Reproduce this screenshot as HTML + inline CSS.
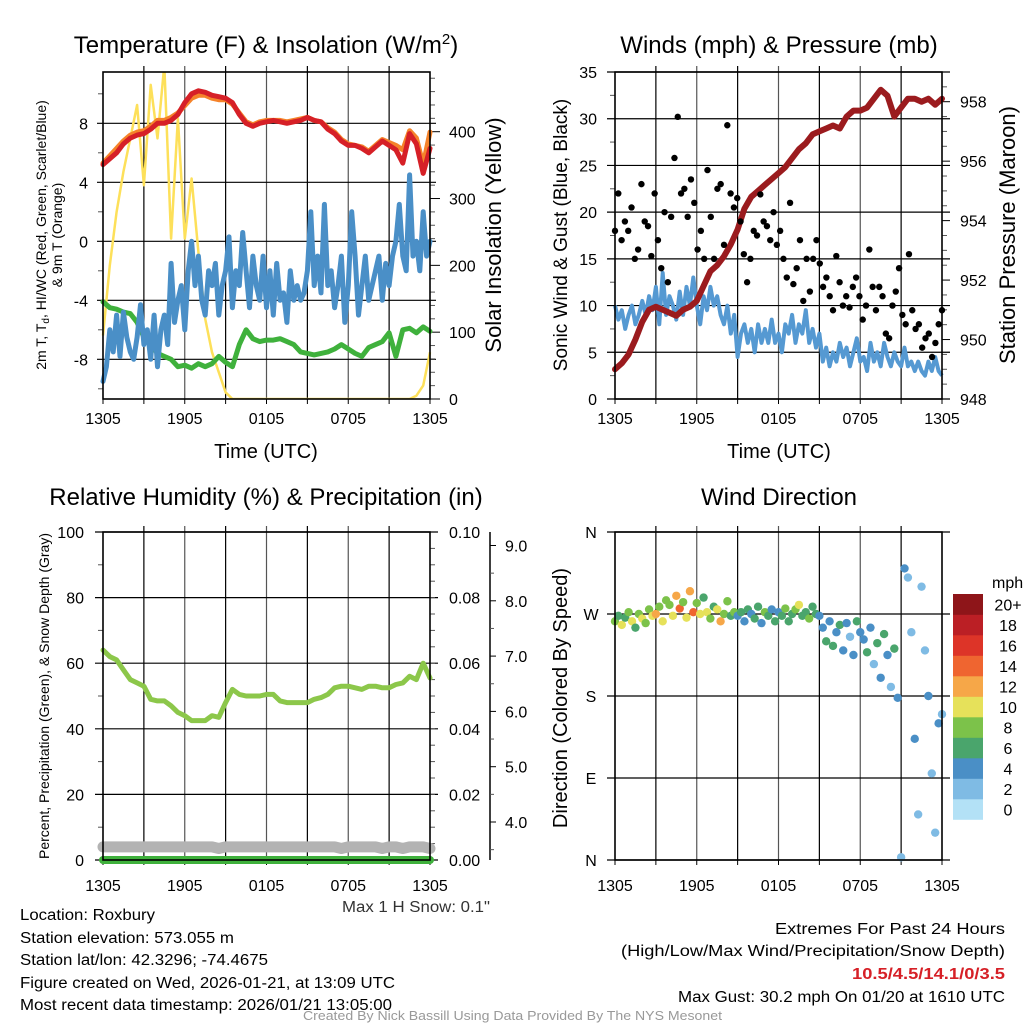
<!DOCTYPE html>
<html><head><meta charset="utf-8"><style>
html,body{margin:0;padding:0;background:#fff;}
svg{display:block;font-family:"Liberation Sans",sans-serif;}
</style></head><body>
<svg id="fig" width="1024" height="1024" viewBox="0 0 1024 1024" xmlns="http://www.w3.org/2000/svg">
<g font-size="24" text-anchor="middle" fill="#000">
<text x="266" y="53">Temperature (F) &amp; Insolation (W/m<tspan dy="-9" font-size="15">2</tspan><tspan dy="9">)</tspan></text>
<text x="779" y="53">Winds (mph) &amp; Pressure (mb)</text>
<text x="266" y="505">Relative Humidity (%) &amp; Precipitation (in)</text>
<text x="779" y="505">Wind Direction</text>
</g>
<g id="layer"></g>
<g font-size="15.5" fill="#000">
<text x="20" y="920" lengthAdjust="spacingAndGlyphs" textLength="135">Location: Roxbury</text>
<text x="20" y="943" lengthAdjust="spacingAndGlyphs" textLength="214">Station elevation: 573.055 m</text>
<text x="20" y="965" lengthAdjust="spacingAndGlyphs" textLength="248">Station lat/lon: 42.3296; -74.4675</text>
<text x="20" y="988" lengthAdjust="spacingAndGlyphs" textLength="375">Figure created on Wed, 2026-01-21, at 13:09 UTC</text>
<text x="20" y="1010" lengthAdjust="spacingAndGlyphs" textLength="372">Most recent data timestamp: 2026/01/21 13:05:00</text>
<text x="775" y="934" lengthAdjust="spacingAndGlyphs" textLength="230">Extremes For Past 24 Hours</text>
<text x="621" y="956" lengthAdjust="spacingAndGlyphs" textLength="384">(High/Low/Max Wind/Precipitation/Snow Depth)</text>
<text x="852" y="979" lengthAdjust="spacingAndGlyphs" textLength="153" fill="#d62027" font-weight="bold">10.5/4.5/14.1/0/3.5</text>
<text x="678" y="1002" lengthAdjust="spacingAndGlyphs" textLength="327">Max Gust: 30.2 mph On 01/20 at 1610 UTC</text>
<text x="342" y="912" lengthAdjust="spacingAndGlyphs" textLength="148" fill="#333">Max 1 H Snow: 0.1"</text>
<text x="303" y="1020" lengthAdjust="spacingAndGlyphs" textLength="419" fill="#999" font-size="12.5">Created By Nick Bassill Using Data Provided By The NYS Mesonet</text>
</g>
</svg>
<script>
// ---------- data ----------
const timeLabels = ["1305","1905","0105","0705","1305"];
const tempF = [5.2,5.6,6.0,6.6,7.0,7.2,7.3,7.6,8.0,8.0,8.2,8.6,9.4,10.0,10.2,10.1,9.9,9.8,9.7,9.4,8.6,8.0,7.8,8.0,8.1,8.2,8.1,8.0,8.1,8.2,8.4,8.2,8.1,7.6,7.3,6.8,6.5,6.5,6.3,6.0,6.4,6.8,6.5,6.2,5.3,7.3,6.6,4.6,6.3];
const temp9mF = [5.3,5.8,6.3,6.8,7.2,7.4,7.5,7.8,8.2,8.2,8.4,8.7,9.2,9.7,9.9,9.9,9.7,9.6,9.6,9.3,8.7,8.1,7.9,8.1,8.2,8.2,8.2,8.1,8.2,8.3,8.4,8.2,8.1,7.7,7.4,6.9,6.6,6.5,6.4,6.1,6.5,6.9,6.7,6.5,6.2,7.5,7.0,5.2,7.4];
const dewF = [-4.1,-4.5,-4.6,-4.8,-4.9,-5.5,-6.5,-7.0,-7.6,-7.8,-8.0,-8.5,-8.4,-8.6,-8.3,-8.5,-8.3,-7.8,-8.2,-8.5,-7.0,-6.0,-6.6,-6.8,-6.7,-6.7,-6.6,-6.8,-7.0,-7.5,-7.6,-7.7,-7.6,-7.5,-7.3,-7.0,-7.3,-7.6,-7.8,-7.2,-7.0,-6.8,-6.2,-7.8,-6.0,-5.9,-6.2,-5.8,-6.1];
const windChillF = [-9.5,-8.5,-6,-7.5,-5,-7.8,-4.8,-6.5,-7.5,-8,-6.5,-4.3,-7,-6,-8,-5,-8.5,-6,-5,-7,-1.5,-5.5,-4,-3,-6,-2,0,-3,-1,-4,-5,-2,-3,-1.5,-5,-3,-2,0.3,-4.5,-2,-3,0.6,-2,-4.5,-1,-3,-4,-1,-4.5,-2,-5,-1.5,-4,-3.5,-5.5,-2,-4,-3,-4,-3.5,-2,2,-3,-1,-3.5,2.5,-3,-2,-4.5,-3,-1,-5.5,-3,2,-1,-5,-3,-1,-4,-3,-2,-1,-4,-1.5,-3,-1,0,2.5,-1,-2,4.5,-1,0,-2,2,-1,0];
const solarWm2 = [95,200,280,340,390,440,320,470,390,500,240,420,240,330,220,120,70,40,10,0,0,0,0,0,0,0,0,0,0,0,0,0,0,0,0,0,0,0,0,0,0,0,0,0,0,0,5,20,70];
const windMph = [10,8.5,9.5,7.5,9,10,8,9,10.5,9,11,9.5,12,8,13.5,9,11,10,8.5,11.5,9,12,10,13,10,8,11,9.5,12,10,11,9,8,10,7,9,4.5,7,8,6,7.5,5,8,6,7.5,6,8.5,6,7,5,8,7,9,6,8,7,9.5,6,7.5,5.5,7,4,5.5,3.5,5,4,6,4.5,5.5,3.5,5,6.5,4,4.5,3,6,4,5,3.5,6,4.5,3.5,5,4,3.5,5.5,3.5,4,3,4,3,2.5,4,3,4.5,3,2.5];
const gustMph = [18,22,17,19,18,20.5,15,16,23,19,18.5,15.3,22,17,14,20,12.5,19.5,25.8,30.2,22,22.5,19.5,23.5,21,16,18,15,24.5,19.5,15,22.5,23,16.5,29.3,22,20.5,21.5,19,15.5,12.5,15,18,17.5,21.9,19,18.5,17,20,16.5,18,15,13,21,12.3,14,17,10.5,15,11.5,15,17,14.5,12,13,11,9.5,15.3,12.5,10,11,9.8,12,13,11,8.5,10,16,12,9.5,12,11,7,6.5,10,11.5,14,9,8,15.5,9.5,7.5,8,5.5,6.5,7,4.5,6,8,9.5];
const pressureMb = [949.0,949.2,949.5,950.0,950.6,951.0,951.1,951.0,950.9,950.8,951.0,951.1,951.3,951.8,952.3,952.5,952.8,953.2,953.7,954.4,954.8,955.0,955.2,955.4,955.6,955.8,956.1,956.4,956.6,956.9,957.0,957.1,957.2,957.1,957.5,957.7,957.7,957.8,958.1,958.4,958.2,957.5,957.8,958.1,958.1,958.0,958.1,957.9,958.1];
const rhPct = [64,62,61,58,55,54,53,49,48.5,48.5,47,45,44,42.5,42.5,42.5,44,43.5,48,52,50.5,50,50,50,50.5,50.5,48.5,48,48,48,48,49,49.5,50.5,52.5,53,53,52.5,52,53,53,52.5,52.5,53.5,54,56,55,60,55.5];
const precipIn = [0,0,0,0,0,0,0,0,0,0,0,0,0,0,0,0,0,0,0,0,0,0,0,0,0,0,0,0,0,0,0,0,0,0,0,0,0,0,0,0,0,0,0,0,0,0,0,0,0];
const snowDepthIn = [3.55,3.55,3.55,3.55,3.55,3.55,3.55,3.55,3.55,3.55,3.55,3.55,3.55,3.55,3.55,3.55,3.55,3.52,3.55,3.55,3.55,3.55,3.55,3.55,3.55,3.55,3.55,3.55,3.55,3.55,3.55,3.55,3.55,3.55,3.55,3.52,3.55,3.55,3.55,3.55,3.55,3.52,3.55,3.55,3.52,3.55,3.55,3.55,3.52];
const dirDeg = [262,268,258,266,272,262,255,270,265,260,275,268,270,278,262,285,280,268,290,276,283,266,295,272,282,270,288,272,265,278,275,262,270,284,268,272,268,272,262,275,270,265,278,260,272,268,275,262,272,268,276,262,270,275,280,268,272,265,278,270,268,255,240,262,235,250,258,230,260,245,225,262,250,242,228,255,215,238,200,248,225,190,232,178,3,320,310,250,133,50,300,230,180,95,30,150,160];
const dirSpeed = [9,7,10,6,9,10,7,8,10,9,8,10,12,8,10,8,9,11,13,14,9,10,12,15,9,10,7,11,8,6,10,12,8,9,7,8,5,6,4,6,5,7,6,4,8,7,5,6,5,7,8,6,7,8,10,6,7,8,6,7,5,4,6,4,7,4,6,5,4,3,4,6,4,4,6,4,3,6,4,7,4,3,6,5,3,4,3,2,4,3,2,3,4,2,2,4,2];
const speedLegendLabels = ["0","2","4","6","8","10","12","14","16","18","20+"];
const speedColors = ["#b3e1f6","#7fbbe4","#4a8fc6","#4aa56c","#7cc24a","#e6e15a","#f6a748","#ef6530","#dd3428","#bb1f25","#8e1519"];

// ---------- helpers ----------
const NS="http://www.w3.org/2000/svg";
const layer=document.getElementById('layer');
function mk(tag,attrs,parent){const e=document.createElementNS(NS,tag);for(const k in attrs)e.setAttribute(k,attrs[k]);(parent||layer).appendChild(e);return e;}
const X0L=103,X1L=430,X0R=615,X1R=942;
function xs(x0,x1){return t=>x0+(x1-x0)*t/24;}
function lin(v0,v1,p0,p1){return v=>p0+(v-v0)*(p1-p0)/(v1-v0);}
function tOf(i,n){return 24*i/(n-1);}
function pathFrom(arr,fx,fy){return arr.map((v,i)=>(i?'L':'M')+fx(tOf(i,arr.length)).toFixed(1)+' '+fy(v).toFixed(1)).join(' ');}
function txt(x,y,s,attrs,parent){const e=mk('text',Object.assign({x:x,y:y},attrs||{}),parent);e.textContent=s;return e;}

function panelFrame(x0,x1,y0,y1,name){
  const g=mk('g',{});
  
  
  for(let h=3;h<24;h+=3){const x=x0+(x1-x0)*h/24;
    mk('line',{x1:x,y1:y0-6,x2:x,y2:y1,stroke:(h%6?'#000':'#555'),'stroke-width':1.2},g);}
  for(let h=0;h<=24;h+=3){const x=x0+(x1-x0)*h/24;mk('line',{x1:x,y1:y1,x2:x,y2:y1+5,stroke:'#000','stroke-width':1},g);}
  return g;
}
function hgrid(g,x0,x1,y,ext){mk('line',{x1:x0-ext,y1:y,x2:x1+ext,y2:y,stroke:'#000','stroke-width':1.2},g);}
function frame(x0,x1,y0,y1,name){const r=mk('rect',{x:x0,y:y0,width:x1-x0,height:y1-y0,fill:'none',stroke:'#000','stroke-width':1.6});
  
  }
function timeLabelsAt(x0,x1,y,name){
  timeLabels.forEach((s,i)=>{const t=txt(x0+(x1-x0)*i/4,y,s,{'font-size':16,'text-anchor':'middle'});
    
    });
}
function vlabel(x,y,s,size,name){const t=txt(x,y,s,{'font-size':size,'text-anchor':'middle',transform:'rotate(-90 '+x+' '+y+')'});
  
  return t;}
function minorTicks(g,x,vals,fy,dir){vals.forEach(v=>{const y=fy(v);mk('line',{x1:x,y1:y,x2:x+dir*5,y2:y,stroke:'#555','stroke-width':1},g);});}

// ================= Panel 1: temperature =================
(function(){
  const Y0=72,Y1=399;
  const fx=xs(X0L,X1L);
  const fy=lin(0,8,241.3,123.3);
  const fs=lin(0,400,399,131.7);
  const g=panelFrame(X0L,X1L,Y0,Y1,'temperature');
  [-8,-4,0,4,8].forEach(v=>{hgrid(g,X0L,X1L,fy(v),6);
    const t=txt(88,fy(v)+6,String(v),{'font-size':16,'text-anchor':'end'});
    
    });
  minorTicks(g,X0L,[-10,-6,-2,2,6,10],fy,-1);
  [0,100,200,300,400].forEach(v=>{mk('line',{x1:X1L,y1:fs(v),x2:X1L+10,y2:fs(v),stroke:'#000'},g);
    const t=txt(449,fs(v)+6,String(v),{'font-size':16});
    
    });
  const mn=[];for(let v=20;v<=480;v+=20)if(v%100)mn.push(v);minorTicks(g,X1L,mn,fs,1);
  const clip=mk('clipPath',{id:'c1'});mk('rect',{x:X0L-4,y:Y0,width:X1L-X0L+8,height:Y1-Y0},clip);
  const d=mk('g',{'clip-path':'url(#c1)'});
  const s=mk('path',{d:pathFrom(solarWm2,fx,fs),fill:'none',stroke:'#fde05a','stroke-width':2.5,'stroke-linejoin':'round'},d);
  
  
  const o=mk('path',{d:pathFrom(temp9mF,fx,fy),fill:'none',stroke:'#f5832a','stroke-width':5,'stroke-linejoin':'round','stroke-linecap':'round'},d);
  
  
  const r=mk('path',{d:pathFrom(tempF,fx,fy),fill:'none',stroke:'#d62027','stroke-width':5,'stroke-linejoin':'round','stroke-linecap':'round'},d);
  
  
  const gr=mk('path',{d:pathFrom(dewF,fx,fy),fill:'none',stroke:'#3fb13c','stroke-width':5,'stroke-linejoin':'round','stroke-linecap':'round'},d);
  
  
  const b=mk('path',{d:pathFrom(windChillF,fx,fy),fill:'none',stroke:'#4a8fc7','stroke-width':5,'stroke-linejoin':'round','stroke-linecap':'round'},d);
  
  
  frame(X0L,X1L,Y0,Y1,'temperature');
  timeLabelsAt(X0L,X1L,424,'temperature');
  const tl=txt(266,458,'Time (UTC)',{'font-size':20,'text-anchor':'middle'});
  
  
  const a=vlabel(46,235,'2m T, T',14,'temperature-y-axis-title');
  const sub=document.createElementNS(NS,'tspan');sub.setAttribute('font-size',10);sub.setAttribute('dy',3);sub.textContent='d';a.appendChild(sub);
  const rest=document.createElementNS(NS,'tspan');rest.setAttribute('dy',-3);rest.textContent=', HI/WC (Red, Green, Scarlet/Blue)';a.appendChild(rest);
  vlabel(62,235,'& 9m T (Orange)',14,'temperature-y-axis-title-line2');
  vlabel(501,235,'Solar Insolation (Yellow)',22,'solar-y-axis-title');
})();

// ================= Panel 2: winds =================
(function(){
  const Y0=72,Y1=399;
  const fx=xs(X0R,X1R);
  const fy=lin(0,35,399,72);
  const fp=lin(948,958,399,101.7);
  const g=panelFrame(X0R,X1R,Y0,Y1,'winds');
  [0,5,10,15,20,25,30,35].forEach(v=>{hgrid(g,X0R,X1R,fy(v),8);
    const t=txt(597,fy(v)+6,String(v),{'font-size':16,'text-anchor':'end'});
    
    });
  minorTicks(g,X0R,[2.5,7.5,12.5,17.5,22.5,27.5,32.5],fy,-1);
  [948,950,952,954,956,958].forEach(v=>{mk('line',{x1:X1R,y1:fp(v),x2:X1R+8,y2:fp(v),stroke:'#000'},g);
    const t=txt(960,fp(v)+6,String(v),{'font-size':16});
    
    });
  const mn=[];for(let v=948.5;v<959;v+=0.5)if(v%2)mn.push(v);minorTicks(g,X1R,mn,fp,1);
  const clip=mk('clipPath',{id:'c2'});mk('rect',{x:X0R-4,y:Y0,width:X1R-X0R+8,height:Y1-Y0},clip);
  const d=mk('g',{'clip-path':'url(#c2)'});
  const w=mk('path',{d:pathFrom(windMph,fx,fy),fill:'none',stroke:'#5599d2','stroke-width':4,'stroke-linejoin':'round'},d);
  
  
  const p=mk('path',{d:pathFrom(pressureMb,fx,fp),fill:'none',stroke:'#9b1b1e','stroke-width':6,'stroke-linejoin':'round','stroke-linecap':'round'},d);
  
  
  gustMph.forEach((v,i)=>{const c=mk('circle',{cx:fx(tOf(i,gustMph.length)),cy:fy(v),r:3.2,fill:'#000'},d);
    
    });
  frame(X0R,X1R,Y0,Y1,'winds');
  timeLabelsAt(X0R,X1R,424,'winds');
  const tl=txt(779,458,'Time (UTC)',{'font-size':20,'text-anchor':'middle'});
  
  
  vlabel(567,235,'Sonic Wind & Gust (Blue, Black)',19,'wind-y-axis-title');
  vlabel(1015,235,'Station Pressure (Maroon)',22,'pressure-y-axis-title');
})();

// ================= Panel 3: humidity =================
(function(){
  const Y0=532,Y1=860;
  const fx=xs(X0L,X1L);
  const fy=lin(0,100,860,532);
  const fpr=lin(0,0.1,860,532);
  const fsn=lin(4,9,822,545.5);
  const g=panelFrame(X0L,X1L,Y0,Y1,'humidity');
  [0,20,40,60,80,100].forEach(v=>{hgrid(g,X0L,X1L,fy(v),8);
    const t=txt(84,fy(v)+6,String(v),{'font-size':16,'text-anchor':'end'});
    
    });
  minorTicks(g,X0L,[10,30,50,70,90],fy,-1);
  ["0.00","0.02","0.04","0.06","0.08","0.10"].forEach(s=>{const v=parseFloat(s);
    const t=txt(449,fpr(v)+6,s,{'font-size':16});
    
    });
  const mn=[];for(let v=0.005;v<0.1;v+=0.005)mn.push(v);minorTicks(g,X1L,mn,fpr,1);
  const sa=mk('line',{x1:490,y1:532,x2:490,y2:860,stroke:'#000','stroke-width':1.5});
  
  
  ["4.0","5.0","6.0","7.0","8.0","9.0"].forEach(s=>{const v=parseFloat(s);const y=fsn(v);
    mk('line',{x1:490,y1:y,x2:496,y2:y,stroke:'#000'});
    const t=txt(505,y+6,s,{'font-size':16});
    
    });
  for(let v=3.5;v<9.3;v+=0.5){if(v%1){mk('line',{x1:490,y1:fsn(v),x2:494,y2:fsn(v),stroke:'#555'});}}
  const sn=mk('path',{d:pathFrom(snowDepthIn,fx,fsn),fill:'none',stroke:'#b3b3b3','stroke-width':11,'stroke-linecap':'round','stroke-linejoin':'round'});
  
  
  const pr=mk('path',{d:pathFrom(precipIn,fx,fpr),fill:'none',stroke:'#3fb13c','stroke-width':8,'stroke-linecap':'round'});
  
  
  const rh=mk('path',{d:pathFrom(rhPct,fx,fy),fill:'none',stroke:'#8cc74a','stroke-width':5,'stroke-linejoin':'round','stroke-linecap':'round'});
  
  
  frame(X0L,X1L,Y0,Y1,'humidity');
  timeLabelsAt(X0L,X1L,891,'humidity');
  vlabel(49,696,'Percent, Precipitation (Green), & Snow Depth (Gray)',14,'humidity-y-axis-title');
})();

// ================= Panel 4: wind direction =================
(function(){
  const Y0=532,Y1=860;
  const fx=xs(X0R,X1R);
  const fy=lin(0,360,860,532);
  const g=panelFrame(X0R,X1R,Y0,Y1,'direction');
  [["N",0],["E",90],["S",180],["W",270],["N",360]].forEach(p=>{hgrid(g,X0R,X1R,fy(p[1]),8);
    const t=txt(591,fy(p[1])+6,p[0],{'font-size':16,'text-anchor':'middle'});
    
    });
  dirDeg.forEach((v,i)=>{const sp=dirSpeed[i];const ci=Math.min(10,Math.floor(sp/2));
    const c=mk('circle',{cx:fx(tOf(i,dirDeg.length)),cy:fy(v),r:4.2,fill:speedColors[ci]});
    
    });
  frame(X0R,X1R,Y0,Y1,'direction');
  timeLabelsAt(X0R,X1R,891,'direction');
  vlabel(567,698,'Direction (Colored By Speed)',20,'direction-y-axis-title');
  const lg=mk('g',{});
  
  
  const t0=txt(992,588,'mph',{'font-size':16},lg);
  
  
  const bh=20.5;
  speedLegendLabels.forEach((s,i)=>{const y=594+(10-i)*bh;
    const r=mk('rect',{x:953,y:y,width:30,height:bh+0.3,fill:speedColors[i]},lg);
    
    
    const t=txt(1008,y+bh/2+6,s,{'font-size':16,'text-anchor':'middle'},lg);
    
    });
})();
</script>
</body></html>
